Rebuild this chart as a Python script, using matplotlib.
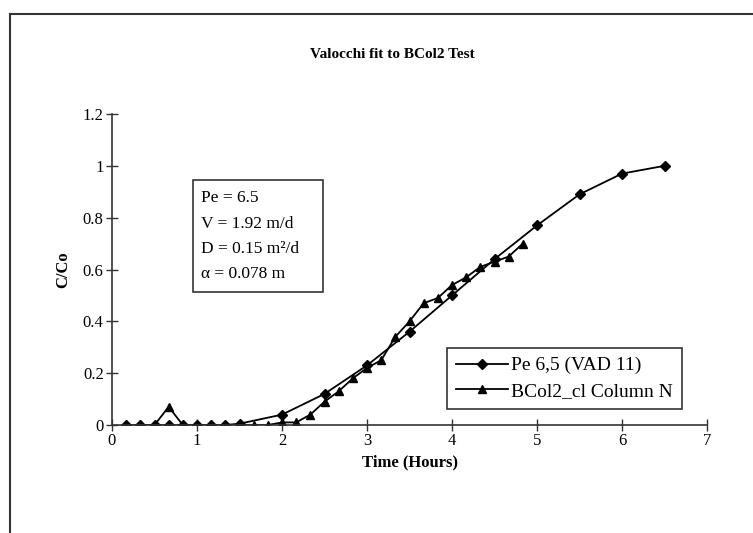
import matplotlib
matplotlib.use("Agg")
import matplotlib.pyplot as plt
from matplotlib.patches import Rectangle
from matplotlib.lines import Line2D

plt.rcParams['font.family'] = ['Liberation Serif', 'DejaVu Serif']

# Model fit (Pe 6,5 (VAD 11))
model_t = [0.167, 0.333, 0.5, 0.667, 0.833, 1.0, 1.167, 1.333, 1.5,
           2.0, 2.5, 3.0, 3.5, 4.0, 4.5, 5.0, 5.5, 6.0, 6.5]
model_c = [0, 0, 0, 0, 0, 0, 0, 0, 0.005,
           0.04, 0.12, 0.23, 0.36, 0.50, 0.64, 0.77, 0.89, 0.97, 1.0]

# Measured (BCol2_cl Column N)
obs_t = [0.167, 0.333, 0.5, 0.667, 0.833, 1.0, 1.167, 1.333, 1.5, 1.667,
         1.833, 2.0, 2.167, 2.333, 2.5, 2.667, 2.833, 3.0, 3.167, 3.333,
         3.5, 3.667, 3.833, 4.0, 4.167, 4.333, 4.5, 4.667, 4.833]
obs_c = [0, 0, 0, 0.07, 0, 0, 0, 0, 0, 0,
         0, 0.01, 0.01, 0.04, 0.09, 0.13, 0.18, 0.22, 0.25, 0.34,
         0.40, 0.47, 0.49, 0.54, 0.57, 0.61, 0.63, 0.65, 0.70]

x_ticks = [0, 1, 2, 3, 4, 5, 6, 7]
y_ticks = [0, 0.2, 0.4, 0.6, 0.8, 1.0, 1.2]
y_ticklabels = ['0', '0.2', '0.4', '0.6', '0.8', '1', '1.2']

W, H = 753, 533
fig = plt.figure(figsize=(W / 100, H / 100), dpi=100)
ax = fig.add_axes([112 / W, 1 - 425 / H, (707 - 112) / W, (425 - 114) / H])

ax.plot(model_t, model_c, color='black', lw=1.3, marker='D', ms=5,
        label='Pe 6,5 (VAD 11)')
ax.plot(obs_t, obs_c, color='black', lw=1.3, marker='^', ms=6,
        label='BCol2_cl Column N')

ax.set_xlim(0, 7)
ax.set_ylim(0, 1.2)
ax.set_xticks(x_ticks)
ax.set_xticklabels([str(v) for v in x_ticks])
ax.set_yticks(y_ticks)
ax.set_yticklabels(y_ticklabels)
for s in ['top', 'right']:
    ax.spines[s].set_visible(False)
for s in ['left', 'bottom']:
    ax.spines[s].set_color('#333333')
    ax.spines[s].set_linewidth(1.2)
ax.tick_params(direction='inout', length=8, width=1.0, labelsize=12,
               colors='#333333', labelcolor='black', pad=2)
ax.patch.set_alpha(0)

ax.set_xlabel('Time (Hours)', fontsize=12, fontweight='bold', labelpad=4)
ax.set_ylabel('C/Co', fontsize=12, fontweight='bold', labelpad=8)
fig.text(392 / W, 1 - 54 / H, 'Valocchi fit to BCol2 Test', ha='center',
         va='center', fontsize=11, fontweight='bold')

leg = ax.legend(loc='upper left', bbox_to_anchor=(447 / W, 1 - 348 / H),
                bbox_transform=fig.transFigure, frameon=True, fancybox=False,
                edgecolor='black', fontsize=14, handlelength=2.7,
                borderpad=0.45, labelspacing=0.4, handletextpad=0.15,
                borderaxespad=0)
leg.get_frame().set_linewidth(1.2)

# Parameter text box
fig.patches.append(Rectangle((193 / W, 1 - 292 / H), (323 - 193) / W,
                             (292 - 180) / H, transform=fig.transFigure,
                             fill=False, edgecolor='#333333', lw=1.2))
lines = ['Pe = 6.5', 'V = 1.92 m/d', 'D = 0.15 m\u00b2/d', '\u03b1 = 0.078 m']
ys = [198, 224, 249, 274]
for t, y in zip(lines, ys):
    fig.text(201 / W, 1 - y / H, t, ha='left', va='center', fontsize=12.5)

# Outer frame (left and top edges)
fig.add_artist(Line2D([10 / W, 10 / W], [0, 1 - 14 / H], transform=fig.transFigure,
                      color='#333333', lw=1.5))
fig.add_artist(Line2D([10 / W, 1], [1 - 14 / H, 1 - 14 / H], transform=fig.transFigure,
                      color='#333333', lw=1.5))

fig.savefig('out.png', dpi=100)
